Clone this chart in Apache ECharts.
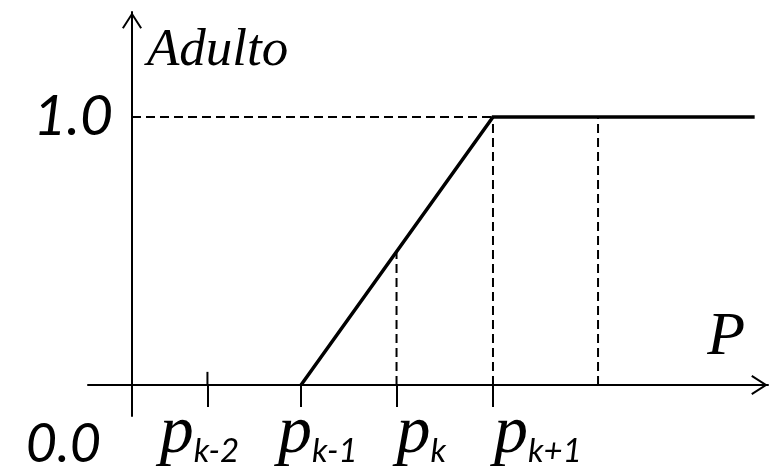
<!DOCTYPE html>
<html><head><meta charset="utf-8">
<script src="https://cdn.jsdelivr.net/npm/echarts@6/dist/echarts.min.js"></script>
<style>html,body{margin:0;padding:0;background:#fff}#c{width:769px;height:469px}</style>
</head><body><div id="c"></div>
<script>
// P-axis tick positions (abstract units, origin at the vertical axis)
const pTicks = [0.79, 1.77, 2.77, 3.78];
// where each tick label starts (labels are not centred on their ticks)
const pLabelStart = [0.29, 1.53, 2.77, 3.79];
const pSubs = ['k-2', 'k-1', 'k', 'k+1'];
// membership function "Adulto"
const curveX = [1.77, 3.78, 6.52];
const curveY = [0, 1, 1];
// dashed guides
const levelX = [0, 3.78];
const levelY = [1, 1];
const guideX = [2.77, 3.78, 4.88];
const guideTop = [0.5, 1, 1];
// y labels
const yVals = [0, 1];
const yTexts = ['0.0', '1.0'];
// small upward tick at p_{k-2}
const upTickX = [0.79, 0.79];
const upTickY = [0, 0.049];

const chart = echarts.init(document.getElementById('c'), null, {renderer: 'canvas'});
const arrowPath = 'path://M10,0 L20,15.5 L18.3,16.6 L10,3.6 L1.7,16.6 L0,15.5 Z';
const dash = [9, 5];
const serif = 'Liberation Serif';
const sans = 'Lato';
const X_MIN = -0.4607, X_MAX = 6.6597;

const series = [];
series.push({type: 'line', data: levelX.map((x, i) => [x, levelY[i]]), symbol: 'none',
  lineStyle: {color: '#000', width: 2, type: dash}, z: 2});
guideX.forEach((x, i) => series.push({type: 'line', data: [[x, 0], [x, guideTop[i]]], symbol: 'none',
  lineStyle: {color: '#000', width: 2, type: dash}, z: 2}));
series.push({type: 'line', data: upTickX.map((x, i) => [x, upTickY[i]]), symbol: 'none',
  lineStyle: {color: '#000', width: 2}, z: 3});
series.push({type: 'line', data: curveX.map((x, i) => [x, curveY[i]]), symbol: 'none',
  lineStyle: {color: '#000', width: 3.5, cap: 'butt', join: 'miter'}, z: 5});

const rich = {
  p: {fontFamily: serif, fontStyle: 'italic', fontSize: 68, color: '#000', verticalAlign: 'bottom', lineHeight: 68},
  s: {fontFamily: sans, fontStyle: 'italic', fontSize: 33, color: '#000', verticalAlign: 'bottom', lineHeight: 14}
};

chart.setOption({
  animation: false,
  backgroundColor: '#fff',
  grid: {left: 88, right: 1, top: 12, bottom: 53, containLabel: false, outerBoundsMode: 'none'},
  xAxis: [{
    type: 'value', min: X_MIN, max: X_MAX,
    splitLine: {show: false},
    axisLine: {onZero: true, lineStyle: {color: '#000', width: 2}, symbol: ['none', arrowPath], symbolSize: [20, 17], symbolOffset: [0, -8.5]},
    axisTick: {show: true, customValues: pTicks, length: 22, lineStyle: {color: '#000', width: 2}},
    axisLabel: {show: false},
    name: 'P', nameLocation: 'end', nameGap: -23,
    nameTextStyle: {fontFamily: serif, fontStyle: 'italic', fontSize: 62, color: '#000', align: 'right', verticalAlign: 'bottom', padding: [0, 0, 16, 0]}
  }, {
    type: 'value', min: X_MIN, max: X_MAX, position: 'bottom', offset: 0,
    splitLine: {show: false},
    axisLine: {show: false, onZero: false},
    axisTick: {show: false},
    axisLabel: {
      customValues: pLabelStart, margin: -16, align: 'left', hideOverlap: false,
      showMinLabel: true, showMaxLabel: true,
      formatter: v => '{p|p}{s|' + pSubs[pLabelStart.indexOf(v)] + '}',
      rich: rich
    }
  }],
  yAxis: {
    type: 'value', min: -0.1157, max: 1.3918,
    splitLine: {show: false},
    axisLine: {onZero: true, lineStyle: {color: '#000', width: 2}, symbol: ['none', arrowPath], symbolSize: [20, 17], symbolOffset: [0, -8.5]},
    axisTick: {show: false},
    axisLabel: {
      customValues: yVals, margin: -25, hideOverlap: false,
      showMinLabel: true, showMaxLabel: true,
      formatter: v => (v === 0 ? '{z|' : '{o|') + yTexts[yVals.indexOf(v)] + '}',
      rich: {
        o: {fontFamily: sans, fontStyle: 'italic', fontSize: 57, color: '#000'},
        z: {fontFamily: sans, fontStyle: 'italic', fontSize: 54, color: '#000', padding: [120, 12, 0, 0]}
      }
    },
    name: 'Adulto', nameLocation: 'end', nameGap: -13,
    nameTextStyle: {fontFamily: serif, fontStyle: 'italic', fontSize: 53, color: '#000', align: 'left', verticalAlign: 'top', padding: [0, 0, 0, 15]}
  },
  series: series
});
</script></body></html>
